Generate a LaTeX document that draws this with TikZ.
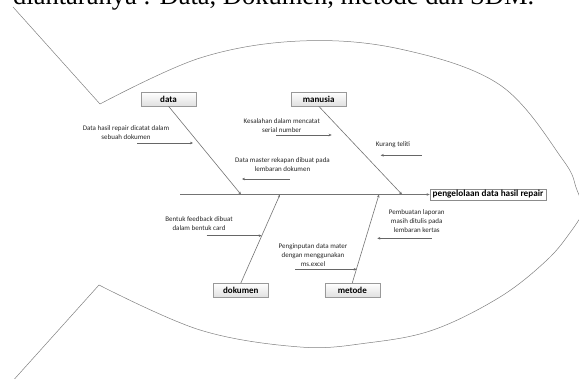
\documentclass[tikz,border=0pt]{standalone}
\usepackage{fontspec}
\setmainfont{Liberation Serif}
\newfontfamily\calibri{Carlito}
\usetikzlibrary{arrows.meta,shadows}
\tikzset{
  tulang/.style={draw=black!55, line width=0.6pt, -{Stealth[length=3pt,width=2.6pt]}},
  sebab/.style={draw=black!60, line width=0.5pt, -{Stealth[length=3pt,width=2.6pt]}},
  kategori/.style={draw=black!40, top color=white, bottom color=black!12, minimum width=55pt,
    minimum height=14pt, inner sep=0pt, font=\calibri\fontsize{9}{10}\selectfont\bfseries},
  ket/.style={align=center, inner sep=0pt, text=black!85, font=\calibri\fontsize{7}{9}\selectfont},
  badan/.style={draw=black!50, line width=0.5pt}
}
\begin{document}
\begin{tikzpicture}[x=1pt,y=-1pt]
\useasboundingbox (0,0) rectangle (579,379);
\clip (0,0) rectangle (579,379);
%\draw[very thin,style=gray!60,step=10] (0,0) grid (579,379);
% teks dari halaman, terpotong di atas
\node[anchor=base west, inner sep=0pt, font=\fontsize{26.5}{30}\selectfont] (judul) at (13,5)
  {diantaranya : Data, Dokumen, metode dan SDM.};
% badan ikan
\draw[badan] (13,7) -- (100,104);
\draw[badan] (10,384) -- (99,285);
\draw[badan] plot[smooth,tension=0.6] coordinates {(100,104) (200,58) (300,41) (400,49) (500,85) (563,160) (577,190) (588,220)};
\draw[badan] plot[smooth,tension=0.6] coordinates {(99,285) (200,330) (300,347) (367,343) (433,330) (500,297) (547,260) (572,230) (588,205)};
% kepala dan kategori
\node[draw=black!45, fill=white, inner xsep=2.8pt, inner ysep=1.6pt,
  drop shadow={opacity=0.25,shadow xshift=0.8pt,shadow yshift=-0.8pt},
  font=\calibri\fontsize{9.2}{10}\selectfont\bfseries] (hasil) at (488,194.5) {pengelolaan data hasil repair};
\node[kategori] (data) at (168.5,99) {data};
\node[kategori] (manusia) at (318.7,99) {manusia};
\node[kategori] (dokumen) at (240.8,290.3) {dokumen};
\node[kategori] (metode) at (352.3,290) {metode};
% tulang
\coordinate (ekor) at (180,194.5);
\coordinate (t1) at (241,194.5);
\coordinate (t2) at (402,194.5);
\coordinate (t3) at (280,194.5);
\coordinate (t4) at (379,194.5);
\draw[tulang] (ekor) -- (hasil.west);
\draw[tulang] (data.south) -- (t1);
\draw[tulang] (manusia.south) -- (t2);
\draw[tulang] (dokumen.north) -- (t3);
\draw[tulang] (metode.north) -- (t4);
% panah sebab
\foreach \nama/\xa/\xb/\y in {a/137/193/143, b/290/242/179, c/276/331.7/135, d/421.7/380.7/155.3,
  e/206.7/261.7/235.7, f/295/356.7/269.3, g/431.7/377.3/238.3}
{
\coordinate (\nama0) at (\xa,\y);
\coordinate (\nama1) at (\xb,\y);
\draw[sebab] (\nama0) -- (\nama1);
}
% keterangan
\node[ket] (ka) at (126,132.5) {Data hasil repair dicatat dalam\\sebuah dokumen};
\node[ket] (kb) at (282.5,164.5) {Data master rekapan dibuat pada\\lembaran dokumen};
\node[ket] (kc) at (281.7,126) {Kesalahan dalam mencatat\\serial number};
\node[ket] (kd) at (393,145) {Kurang teliti};
\node[ket] (ke) at (199,223.3) {Bentuk feedback dibuat\\dalam bentuk card};
\node[ket] (kf) at (313,255) {Penginputan data mater\\dengan menggunakan\\ms.excel};
\node[ket] (kg) at (416.7,221.3) {Pembuatan laporan\\masih ditulis pada\\lembaran kertas};
\end{tikzpicture}
\end{document}
